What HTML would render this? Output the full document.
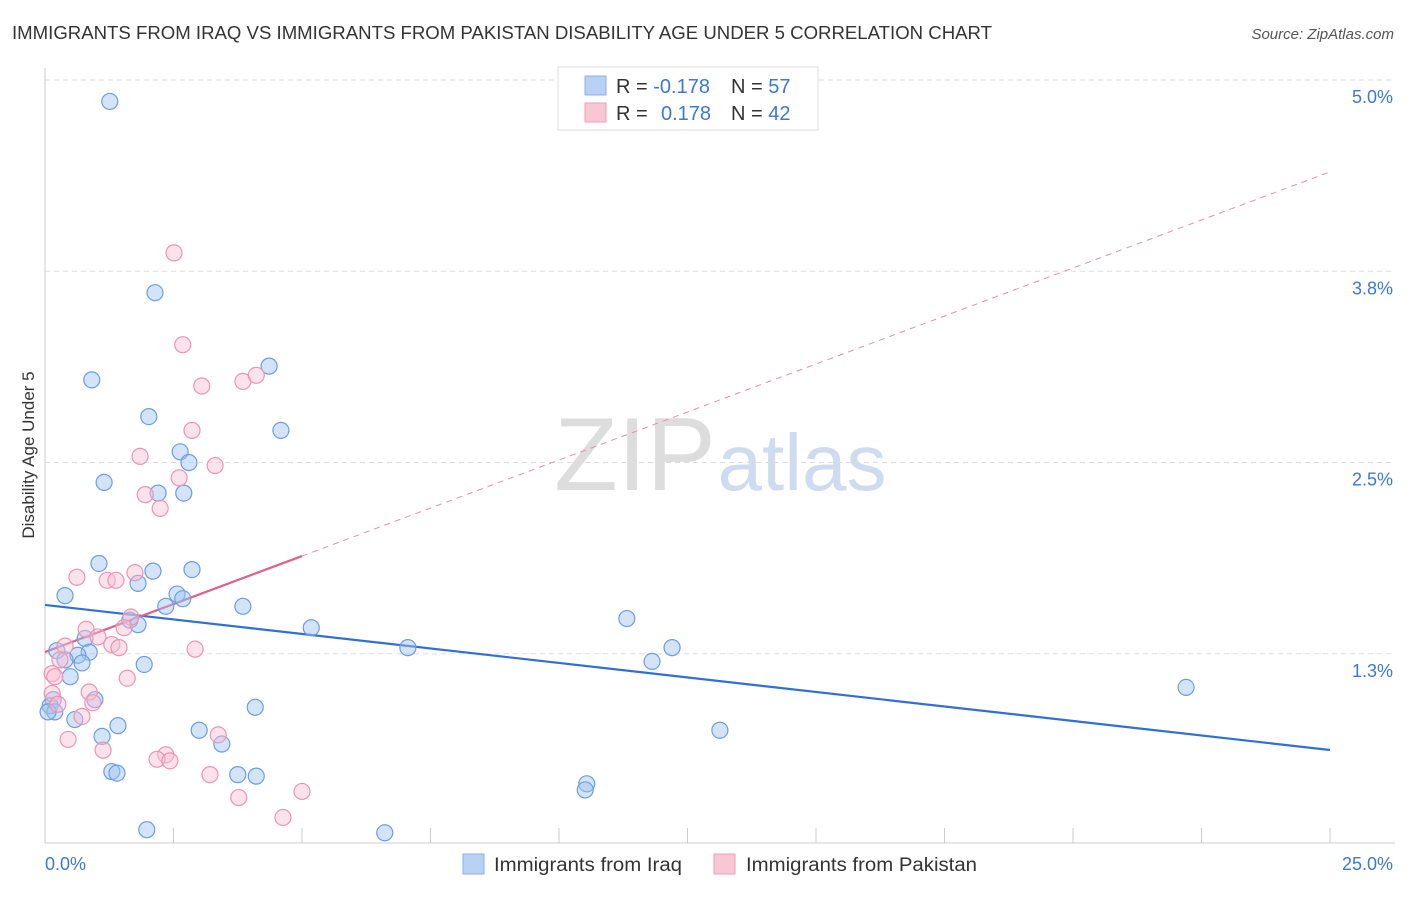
<!DOCTYPE html>
<html><head><meta charset="utf-8"><style>
body{margin:0;background:#fff;font-family:"Liberation Sans",sans-serif;}
svg text{font-family:"Liberation Sans",sans-serif;}
</style></head><body>
<svg id="chart" width="1406" height="892" xmlns="http://www.w3.org/2000/svg">
<text x="12" y="39" font-size="18" fill="#333" textLength="980" lengthAdjust="spacingAndGlyphs">IMMIGRANTS FROM IRAQ VS IMMIGRANTS FROM PAKISTAN DISABILITY AGE UNDER 5 CORRELATION CHART</text>
<text x="1394" y="39" font-size="15" fill="#555" font-style="italic" text-anchor="end">Source: ZipAtlas.com</text>
<text x="635" y="490" font-size="104" fill="#ddd" font-family="Liberation Serif" text-anchor="middle">ZIP</text>
<text x="802" y="490" font-size="80" fill="#cfdcf0" text-anchor="middle">atlas</text>
<g id="grid"></g>
<line x1="45" y1="68" x2="45" y2="843" stroke="#ccc"/>
<line x1="45" y1="843" x2="1395" y2="843" stroke="#ccc"/>
<text x="34" y="455" font-size="17" fill="#333" text-anchor="middle" transform="rotate(-90 34 455)">Disability Age Under 5</text>
<g id="ticks"></g>
<g id="lines"></g>
<g id="points"></g>
<g>
<rect x="558" y="67" width="260" height="63" fill="#fff" stroke="#ddd"/>
<rect x="585" y="76" width="21" height="19" fill="#b9d1f5" stroke="#8fb0e0"/>
<rect x="585" y="103" width="21" height="19" fill="#f9c6d6" stroke="#eaa0b8"/>
<text x="616" y="93" font-size="20" fill="#333">R = <tspan fill="#3b78d8">-0.178</tspan><tspan x="731">N = </tspan><tspan fill="#3b78d8">57</tspan></text>
<text x="616" y="120" font-size="20" fill="#333">R = <tspan x="661" fill="#3b78d8">0.178</tspan><tspan x="731">N = </tspan><tspan fill="#3b78d8">42</tspan></text>
</g>
<g>
<rect x="463" y="854" width="21" height="20" fill="#b9d1f5" stroke="#8fb0e0"/>
<text x="494" y="871" font-size="19" fill="#333" textLength="188" lengthAdjust="spacingAndGlyphs">Immigrants from Iraq</text>
<rect x="714" y="854" width="21" height="20" fill="#f9c6d6" stroke="#eaa0b8"/>
<text x="746" y="871" font-size="19" fill="#333" textLength="231" lengthAdjust="spacingAndGlyphs">Immigrants from Pakistan</text>
</g>
</svg>
<script>
const yTicks=[5.0,3.75,2.5,1.25];
const yTickLabels=["5.0%","3.8%","2.5%","1.3%"];
const xTicks=[0,2.5,5,7.5,10,12.5,15,17.5,20,22.5,25];
const iraqX=[1.26,2.14,0.91,4.36,2.02,4.59,2.63,2.80,1.15,2.20,2.70,1.05,2.10,2.86,1.81,0.39,2.57,2.68,2.35,3.85,1.65,1.81,5.18,11.32,0.78,0.23,0.86,0.64,0.39,0.72,1.93,7.06,11.81,12.20,0.49,22.20,0.97,0.16,0.10,0.19,4.09,0.58,1.42,3.00,13.13,1.11,3.44,1.30,1.40,3.75,4.11,10.54,10.51,1.98,6.61,0.06];
const iraqY=[4.86,3.61,3.04,3.13,2.80,2.71,2.57,2.50,2.37,2.30,2.30,1.84,1.79,1.80,1.71,1.63,1.64,1.61,1.56,1.56,1.47,1.44,1.42,1.48,1.35,1.27,1.26,1.24,1.21,1.19,1.18,1.29,1.20,1.29,1.10,1.03,0.95,0.95,0.91,0.87,0.90,0.82,0.78,0.75,0.75,0.71,0.66,0.48,0.47,0.46,0.45,0.40,0.36,0.10,0.08,0.87];
const pakX=[2.51,2.68,3.05,3.85,4.11,2.86,1.85,3.31,2.61,1.95,2.24,0.62,1.21,1.38,1.75,1.67,1.54,0.80,0.39,1.03,1.30,1.44,2.92,0.29,0.14,0.19,1.60,0.86,0.14,0.93,0.25,0.72,3.37,0.45,1.13,2.35,2.18,2.43,3.21,3.77,5.00,4.63];
const pakY=[3.87,3.27,3.00,3.03,3.07,2.71,2.54,2.48,2.40,2.29,2.20,1.75,1.73,1.73,1.78,1.49,1.42,1.41,1.30,1.36,1.31,1.29,1.28,1.21,1.12,1.10,1.09,1.00,0.99,0.93,0.92,0.84,0.72,0.69,0.62,0.59,0.56,0.55,0.46,0.31,0.35,0.18];
const iraqTrend=[1.569,0.621];
const pakTrend=[1.261,4.399];
const pakSolidEnd=5.0;
const NS="http://www.w3.org/2000/svg";
const xs=v=>45+v*51.4;
const ys=v=>80+(5-v)*153;
function mk(tag,attrs,parent){const e=document.createElementNS(NS,tag);for(const k in attrs)e.setAttribute(k,attrs[k]);document.getElementById(parent).appendChild(e);return e;}
yTicks.forEach((t,i)=>{
  const g=mk('line',{x1:45,x2:1395,y1:ys(t),y2:ys(t),stroke:'#ddd','stroke-dasharray':'5,4'},'grid');
  
  
  const l=mk('text',{x:1393,y:ys(t)+23,'font-size':18,fill:'#3b78d8','text-anchor':'end'},'ticks');
  l.textContent=yTickLabels[i];
  
  
});
xTicks.forEach(t=>{
  const tk=mk('line',{x1:xs(t),x2:xs(t),y1:828,y2:843,stroke:'#ccc'},'ticks');
  
  
});
[[0,"0.0%",'start',45],[25,"25.0%",'end',1393]].forEach(a=>{
  const l=mk('text',{x:a[3],y:870,'font-size':18,fill:'#3b78d8','text-anchor':a[2]},'ticks');
  l.textContent=a[1];
  
  
});
iraqX.forEach((x,i)=>{
  const c=mk('circle',{cx:xs(x),cy:ys(iraqY[i]),r:8,fill:'rgba(160,195,240,0.45)',stroke:'#6a9ee0','stroke-width':1.2},'points');
  
  
});
pakX.forEach((x,i)=>{
  const c=mk('circle',{cx:xs(x),cy:ys(pakY[i]),r:8,fill:'rgba(248,190,210,0.45)',stroke:'#ec95b2','stroke-width':1.2},'points');
  
  
});
const bl=mk('line',{x1:xs(0),y1:ys(iraqTrend[0]),x2:xs(25),y2:ys(iraqTrend[1]),stroke:'#2f6fd6','stroke-width':2.2},'lines');


const pAt=x=>pakTrend[0]+(pakTrend[1]-pakTrend[0])*x/25;
const pd=mk('line',{x1:xs(pakSolidEnd),y1:ys(pAt(pakSolidEnd)),x2:xs(25),y2:ys(pakTrend[1]),stroke:'#e590ac','stroke-width':1,'stroke-dasharray':'6,5'},'lines');


const ps=mk('line',{x1:xs(0),y1:ys(pakTrend[0]),x2:xs(pakSolidEnd),y2:ys(pAt(pakSolidEnd)),stroke:'#e0608a','stroke-width':2.2},'lines');


</script>
</body></html>
